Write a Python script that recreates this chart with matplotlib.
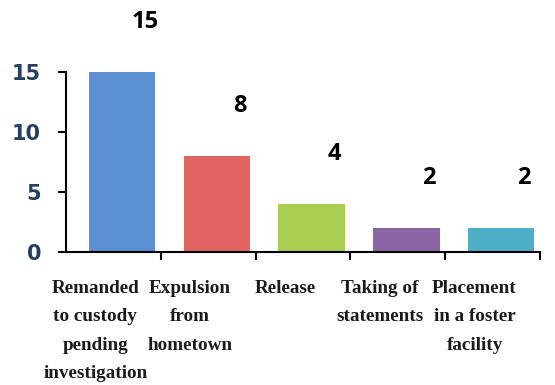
import numpy as np
import matplotlib.pyplot as plt

# outcomes and counts
categories = ["Remanded\nto custody\npending\ninvestigation",
              "Expulsion\nfrom\nhometown",
              "Release",
              "Taking of\nstatements",
              "Placement\nin a foster\nfacility"]
counts = [15, 8, 4, 2, 2]
colors = ["#5B8FD2", "#E0645F", "#A9CE52", "#8A65A5", "#4EAFC8"]

x = np.arange(len(categories))

fig = plt.figure(figsize=(5.55, 3.85), dpi=100)
ax = fig.add_axes([0.119, 0.3455, 0.854, 0.4675])

ax.bar(x, counts, width=0.7, color=colors)

# value labels sit above and right of each bar
for xi, v in zip(x, counts):
    ax.text(xi + 0.24, v + 4.2, str(v), ha="center", va="center",
            fontsize=17, fontweight="bold", family="Open Sans",
            color="black", clip_on=False)

ax.set_xlim(-0.59, 4.41)
ax.set_ylim(0, 15)
ax.set_yticks([0, 5, 10, 15])
ax.set_yticklabels(["0", "5", "10", "15"], fontsize=15, fontweight="bold",
                   family="DejaVu Sans", color="#243F60")
ax.tick_params(axis="y", length=6, width=1.5, pad=12)

# category names under the bars, boundary ticks between slots
ax.set_xticks(x - 0.28)
ax.set_xticklabels(categories, fontsize=13.8, fontweight="bold",
                   family="Liberation Serif", color="#1a1a1a",
                   linespacing=1.88, va="top")
ax.tick_params(axis="x", which="major", length=0, pad=20)
ax.set_xticks(x + 0.41, minor=True)
ax.tick_params(axis="x", which="minor", length=6, width=1.5, direction="out")

for side in ["top", "right"]:
    ax.spines[side].set_visible(False)
for side in ["left", "bottom"]:
    ax.spines[side].set_linewidth(1.5)

fig.savefig("out.png", dpi=100)
